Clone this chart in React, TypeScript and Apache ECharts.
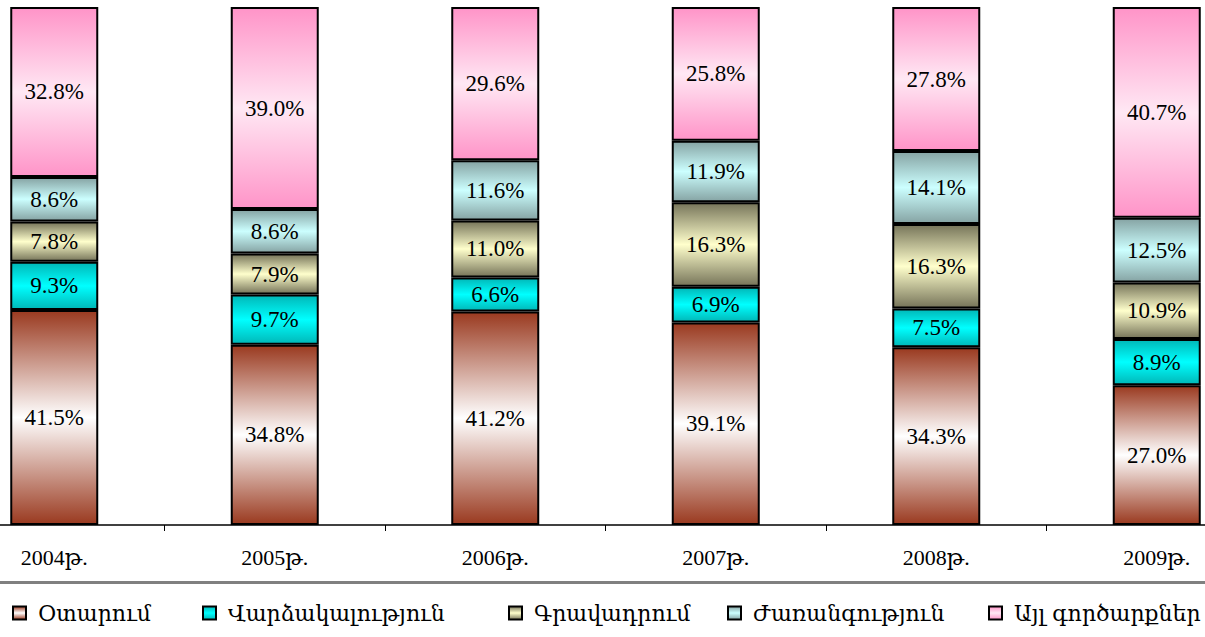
import React, { useEffect, useRef } from "react";
import * as echarts from "echarts";

const categories = ["2004թ.", "2005թ.", "2006թ.", "2007թ.", "2008թ.", "2009թ."];
const seriesNames = ["Օտարում", "Վարձակալություն", "Գրավադրում", "Ժառանգություն", "Այլ գործարքներ"];
const otarum = [41.5, 34.8, 41.2, 39.1, 34.3, 27.0];
const vardzakalutyun = [9.3, 9.7, 6.6, 6.9, 7.5, 8.9];
const gravadrum = [7.8, 7.9, 11.0, 16.3, 16.3, 10.9];
const zharangutyun = [8.6, 8.6, 11.6, 11.9, 14.1, 12.5];
const ayl = [32.8, 39.0, 29.6, 25.8, 27.8, 40.7];

const seriesData = [otarum, vardzakalutyun, gravadrum, zharangutyun, ayl];
const gradientStops: [string, string][] = [
  ["#9a3a20", "#ffffff"],
  ["#00b8b8", "#00ffff"],
  ["#77755a", "#ffffcc"],
  ["#86a4a4", "#ccffff"],
  ["#ff94c8", "#ffe8f4"],
];
const legendLeft = [12, 202, 508, 727, 988];

const FONT = "'Liberation Serif', 'DejaVu Serif', serif";
const LEGEND_FONT = "'DejaVu Serif', 'Liberation Serif', serif";
const SHIFT = 56;

function grad(edge: string, mid: string) {
  return new echarts.graphic.LinearGradient(0, 0, 0, 1, [
    { offset: 0, color: edge },
    { offset: 0.5, color: mid },
    { offset: 1, color: edge },
  ]);
}

export default function App() {
  const ref = useRef<HTMLDivElement>(null);
  useEffect(() => {
    if (!ref.current) return;
    const chart = echarts.init(ref.current, undefined, { renderer: "svg" });
    chart.setOption({
      animation: false,
      backgroundColor: "#ffffff",
      grid: { left: 0, right: 0, top: 7, bottom: 112, containLabel: false },
      legend: seriesNames.map((name, i) => ({
        left: legendLeft[i] + SHIFT - 5,
        top: 597,
        itemWidth: 13,
        itemHeight: 13,
        icon: "rect",
        textStyle: { fontFamily: LEGEND_FONT, fontSize: 22, color: "#000", padding: [0, 0, 0, 7] },
        data: [name],
      })),
      xAxis: {
        type: "category",
        data: categories,
        axisLine: { lineStyle: { color: "#000", width: 1.5 } },
        axisTick: { show: true, length: 6, lineStyle: { color: "#000" } },
        axisLabel: { fontFamily: FONT, fontSize: 22, color: "#000", margin: 21 },
      },
      yAxis: { type: "value", min: 0, max: 100, show: false, splitLine: { show: false } },
      graphic: [
        { type: "rect", left: SHIFT, top: 581, shape: { width: 1205, height: 3 }, style: { fill: "#808080" } },
      ],
      series: seriesNames.map((name, i) => ({
        name,
        type: "bar",
        stack: "total",
        barWidth: 88,
        data: seriesData[i],
        itemStyle: {
          color: grad(gradientStops[i][0], gradientStops[i][1]),
          borderColor: "#000",
          borderWidth: 2,
        },
        label: {
          show: true,
          position: "inside",
          fontFamily: FONT,
          fontSize: 23,
          color: "#000",
          formatter: (p: any) => Number(p.value).toFixed(1) + "%",
        },
      })),
    });
    return () => chart.dispose();
  }, []);
  return (
    <div style={{ position: "fixed", left: 0, top: 0, width: 1205, height: 637, overflow: "hidden", background: "#fff" }}>
      <div
        ref={ref}
        style={{ position: "absolute", left: -SHIFT, top: 0, width: 1323, height: 637 }}
      />
    </div>
  );
}
